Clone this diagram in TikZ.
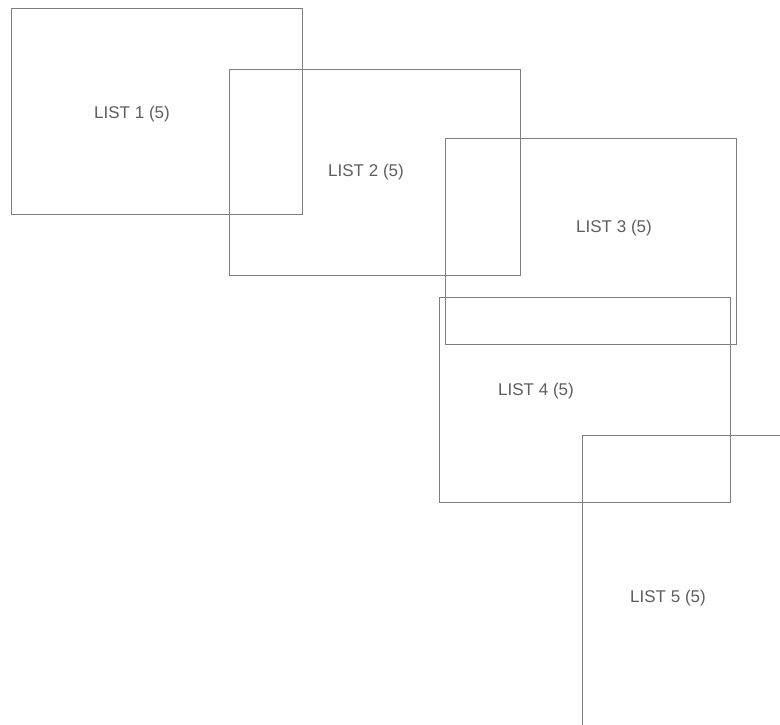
\documentclass[tikz,border=0pt]{standalone}
\usepackage{fontspec}
\setsansfont{Liberation Sans}
\usetikzlibrary{positioning}
\definecolor{penline}{HTML}{7E7E7E}
\definecolor{pentext}{HTML}{5E5E5E}
\tikzset{
  listbox/.style={draw=penline,line width=0.9pt,anchor=north west,inner sep=0pt,minimum width=291pt,minimum height=206pt},
  listlabel/.style={font=\sffamily\fontsize{17}{20}\selectfont,text=pentext,inner sep=0pt}
}

\begin{document}
\begin{tikzpicture}[x=1pt,y=-1pt]
  \useasboundingbox (0,0) rectangle (780,724);
  \clip (0,0) rectangle (780,724);

  % boxes
  \node[listbox] (b1) at (11,8) {};
  \node[listbox] (b2) at (229,69) {};
  \node[listbox] (b3) at (445,138) {};
  \node[listbox,minimum width=291pt,minimum height=205pt] (b4) at (439,297) {};
  \node[listbox,minimum width=260pt,minimum height=320pt] (b5) at (582,435) {};

  % labels
  \node[listlabel] (l1) at (132,114) {LIST 1 (5)};
  \node[listlabel] (l2) at (366,172) {LIST 2 (5)};
  \node[listlabel] (l3) at (614,228) {LIST 3 (5)};
  \node[listlabel] (l4) at (536,391) {LIST 4 (5)};
  \node[listlabel] (l5) at (668,598) {LIST 5 (5)};
\end{tikzpicture}
\end{document}
